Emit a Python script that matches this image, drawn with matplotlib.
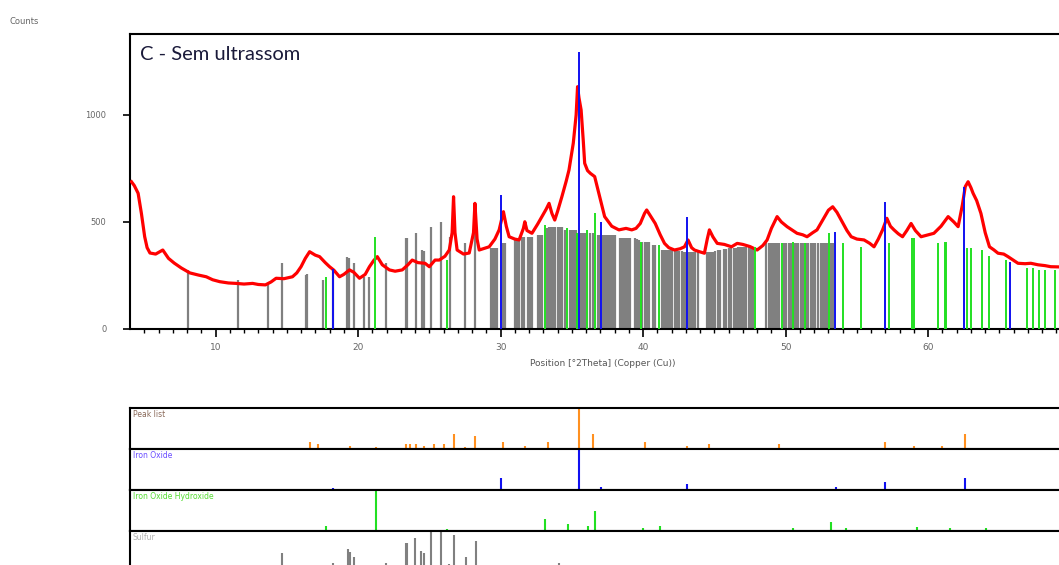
import matplotlib
matplotlib.use("Agg")
import matplotlib.pyplot as plt

two_theta = [4.1, 4.3, 4.57, 4.8, 5.03, 5.2, 5.4, 5.8, 6.3, 6.7, 7.1, 7.6, 8.2, 8.8, 9.35, 9.8,
             10.3, 10.9, 11.45, 12.0, 12.6, 13.0, 13.5, 13.9, 14.25, 14.8, 15.4, 15.7, 16.0, 16.3,
             16.6, 17.0, 17.3, 17.7, 18.0, 18.3, 18.7, 19.0, 19.4, 19.7, 20.1, 20.5, 20.8, 21.1,
             21.35, 21.7, 22.2, 22.6, 23.1, 23.5, 23.8, 24.2, 24.7, 25.0, 25.4, 25.7, 26.1, 26.4,
             26.6, 26.7, 26.8, 26.95, 27.4, 27.8, 28.1, 28.2, 28.35, 28.5, 29.2, 29.6, 29.9, 30.2,
             30.4, 30.6, 31.0, 31.3, 31.6, 31.7, 31.85, 32.2, 32.6, 32.9, 33.2, 33.4, 33.6, 33.8,
             34.0, 34.3, 34.6, 34.8, 35.1, 35.3, 35.4, 35.5, 35.65, 35.8, 35.9, 36.1, 36.3, 36.6,
             36.95, 37.3, 37.8, 38.3, 38.8, 39.2, 39.5, 39.8, 40.1, 40.25, 40.5, 40.85, 41.2, 41.5,
             41.8, 42.2, 42.6, 42.9, 43.15, 43.4, 43.6, 44.0, 44.3, 44.5, 44.65, 44.9, 45.2, 45.7,
             46.2, 46.6, 47.0, 47.5, 48.0, 48.4, 48.7, 49.0, 49.4, 49.7, 50.1, 50.5, 50.8, 51.2,
             51.5, 51.9, 52.2, 52.7, 53.0, 53.3, 53.6, 53.9, 54.3, 54.6, 55.0, 55.5, 55.9, 56.2,
             56.5, 56.8, 57.1, 57.35, 57.6, 57.9, 58.2, 58.5, 58.8, 59.1, 59.5, 60.0, 60.4, 60.9,
             61.4, 61.8, 62.1, 62.4, 62.6, 62.8, 63.0, 63.15, 63.4, 63.7, 64.0, 64.3, 64.6, 64.9,
             65.3, 65.6, 66.0, 66.3, 66.8, 67.2, 67.7, 68.2, 68.6, 69.2]
counts = [688, 670, 634, 540, 431, 380, 355, 350, 369, 330, 308, 285, 262, 252, 244, 230,
          221, 215, 213, 210, 213, 208, 206, 220, 237, 235, 244, 262, 291, 330,
          361, 345, 338, 310, 291, 275, 244, 255, 276, 265, 237, 255, 291, 320,
          338, 300, 276, 270, 276, 300, 322, 310, 307, 291, 322, 322, 340, 369,
          450, 618, 450, 369, 350, 355, 450, 587, 420, 369, 384, 420, 463, 548,
          480, 431, 420, 416, 470, 501, 460, 447, 490, 525, 560, 587, 540, 509,
          550, 618, 690, 743, 868, 1000, 1132, 1080, 1023, 880, 774, 740, 727, 712,
          618, 525, 480, 463, 470, 463, 470, 493, 540, 556, 530, 493, 440, 400,
          380, 369, 375, 384, 416, 380, 369, 360, 354, 420, 463, 430, 400, 395,
          384, 400, 395, 385, 369, 390, 416, 470, 525, 500, 478, 460, 447, 440,
          431, 450, 463, 520, 555, 571, 545, 509, 460, 431, 420, 416, 400, 384,
          420, 463, 517, 480, 463, 445, 431, 460, 493, 460, 431, 440, 447, 480,
          525, 500, 478, 580, 665, 688, 660, 634, 600, 540, 450, 384, 370, 354,
          350, 338, 320, 307, 305, 307, 300, 296, 291, 290]

# reference sticks drawn in the main plot
sulfur_pos = [8.06, 11.56, 13.66, 14.64, 16.34, 16.45, 17.55, 18.27, 19.25, 19.36, 19.72, 20.42,
              20.77, 21.94, 23.34, 23.45, 24.04, 24.5, 24.6, 25.15, 25.85, 26.47, 27.52, 28.22,
              29.3, 29.45, 29.6, 29.75, 30.15, 30.3, 31.0, 31.15, 31.3, 31.5, 31.65, 31.9, 32.05,
              32.2, 32.6, 32.75, 32.9, 33.25, 33.4, 33.55, 33.7, 33.85, 34.0, 34.15, 34.3, 34.5,
              34.85, 35.0, 35.15, 35.3, 35.65, 35.8, 35.95, 36.3, 36.45, 36.8, 36.95, 37.15, 37.3,
              37.45, 37.6, 37.75, 37.9, 38.05, 38.35, 38.5, 38.65, 38.8, 38.95, 39.1, 39.4, 39.55,
              39.7, 39.95, 40.1, 40.25, 40.4, 40.7, 40.85, 41.3, 41.45, 41.6, 41.75, 41.9, 42.05,
              42.25, 42.4, 42.55, 42.7, 42.85, 43.0, 43.2, 43.35, 43.5, 43.65, 43.85, 44.45, 44.6,
              44.75, 44.9, 45.05, 45.25, 45.4, 45.65, 45.8, 46.0, 46.15, 46.35, 46.5, 46.65, 46.8,
              46.95, 47.1, 47.25, 47.4, 47.55, 47.7, 48.65, 48.8, 48.95, 49.1, 49.25, 49.4, 49.55,
              49.9, 50.05, 50.2, 50.35, 50.6, 50.75, 50.9, 51.05, 51.2, 51.45, 51.6, 51.75, 51.9,
              52.05, 52.3, 52.45, 52.6, 52.75, 52.9, 53.15, 53.3]
sulfur_h = [276, 229, 213, 307, 252, 255, 229, 274, 338, 330, 310, 244,
            244, 307, 423, 423, 447, 369, 365, 478, 501, 431, 400, 548,
            377, 377, 377, 380, 400, 400, 416, 416, 416, 431, 431, 431, 431,
            431, 439, 439, 439, 470, 478, 478, 478, 478, 478, 478, 478, 463,
            463, 463, 463, 463, 447, 447, 447, 447, 447, 439, 439, 439, 439,
            439, 439, 439, 439, 439, 425, 425, 425, 425, 425, 425, 425, 420,
            415, 408, 408, 408, 408, 393, 393, 369, 369, 369, 369, 369, 369,
            365, 365, 365, 365, 361, 361, 361, 361, 361, 361, 361, 361, 361,
            361, 361, 365, 370, 370, 375, 375, 378, 378, 380, 380, 384, 384,
            384, 384, 384, 384, 384, 384, 403, 403, 403, 403, 403, 403, 403,
            403, 403, 403, 403, 403, 403, 403, 400, 400, 400, 400, 400, 400,
            400, 400, 400, 400, 400, 400, 400, 400]
goethite_pos = [17.74, 21.19, 26.24, 33.1, 34.65, 35.35, 36.08, 36.6, 39.84, 41.1, 47.86, 49.72,
                50.5, 51.35, 53.05, 53.99, 55.27, 57.25, 58.88, 59.0, 60.7, 61.17, 61.28, 62.73,
                63.0, 63.8, 64.24, 65.47, 66.92, 67.34, 67.74, 68.2, 68.9]
goethite_h = [244, 431, 322, 486, 470, 447, 463, 541, 408, 393, 384, 400,
              408, 400, 447, 400, 384, 400, 423, 423, 400, 408, 408, 377,
              377, 369, 341, 322, 284, 284, 276, 276, 276]
magnetite_pos = [18.27, 30.05, 35.5, 37.06, 43.08, 53.45, 56.94, 62.54, 65.76]
magnetite_h = [280, 626, 1294, 501, 522, 455, 595, 665, 315]

# stick strips below, in % of the strip
peak_pos = [4.36, 6.36, 16.6, 17.16, 19.4, 21.24, 23.34, 23.62, 24.04, 24.6, 25.3, 26.0, 26.7,
            27.5, 28.2, 30.2, 31.7, 33.3, 35.5, 36.45, 40.16, 43.08, 44.6, 47.0, 49.5, 57.0,
            59.0, 60.95, 62.6]
peak_rel = [2, 2, 18, 12, 7, 6, 12, 12, 12, 7, 12, 12, 37,
            4, 31, 18, 7, 18, 100, 37, 18, 7, 12, 3, 12, 18,
            7, 7, 37]
iron_pos = [18.27, 30.05, 35.5, 37.03, 43.08, 53.5, 57.0, 62.6, 65.76]
iron_rel = [5, 29, 100, 7, 15, 7, 20, 30, 3]
hydrox_pos = [17.74, 21.24, 26.27, 33.1, 34.7, 35.4, 36.1, 36.6, 39.0, 40.0, 41.2, 44.9, 47.1,
              50.5, 53.2, 54.2, 55.5, 57.45, 59.2, 61.5, 62.9, 63.2, 64.05, 65.8, 67.2, 68.5]
hydrox_rel = [11, 100, 5, 30, 17, 3, 11, 50, 3, 7, 11, 3, 3,
              7, 21, 7, 3, 3, 10, 7, 3, 3, 7, 3, 3, 3]
sulfur_strip_pos = [14.64, 18.27, 19.28, 19.42, 19.7, 21.94, 23.34, 23.45, 24.02, 24.45, 24.6,
                    25.13, 25.83, 26.37, 26.7, 27.54, 28.24, 34.1]
sulfur_strip_rel = [47, 23, 56, 50, 37, 21, 71, 71, 82, 51, 47,
                    98, 100, 20, 90, 37, 76, 21]

W, H = 1059, 565
x0, x1 = 4.0, 70.3
left = 130 / W
width = 945 / W

fig = plt.figure(figsize=(W / 100, H / 100), dpi=100)

ax = fig.add_axes([left, (H - 329) / H, width, 295 / H])
ax.vlines(sulfur_pos, 0, sulfur_h, colors="#808080", linewidth=1.6, zorder=2)
ax.plot(two_theta, counts, color="#ff0000", linewidth=2.3, zorder=3)
ax.vlines(goethite_pos, 0, goethite_h, colors="#22e022", linewidth=1.4, zorder=4)
ax.vlines(magnetite_pos, 0, magnetite_h, colors="#1010f0", linewidth=1.4, zorder=5)
ax.set_xlim(x0, x1)
ax.set_ylim(0, 1378)
ax.set_yticks([0, 500, 1000])
ax.set_xticks([10, 20, 30, 40, 50, 60])
ax.set_xticks(range(5, 70), minor=True)
for s in ax.spines.values():
    s.set_linewidth(1.5)
ax.tick_params(axis="y", length=5, width=1.2, pad=12, labelsize=6, labelcolor="#666666")
ax.tick_params(axis="x", which="major", length=6, width=1.2, pad=4, labelsize=6.5, labelcolor="#666666")
ax.tick_params(axis="x", which="minor", length=3, width=1)
ax.set_xlabel("Position [°2Theta] (Copper (Cu))", fontsize=6.5, color="#555555", labelpad=5)
ax.text(0.011, 0.93, "C - Sem ultrassom", transform=ax.transAxes, fontsize=14.5,
        family=["Lato", "DejaVu Sans"], color="#1a1a3a", va="center")
fig.text(10 / W, 1 - 22 / H, "Counts", fontsize=6, color="#666666", va="center")

strips = [("Peak list", peak_pos, peak_rel, "#ff9020", "#8a6a5a"),
          ("Iron Oxide", iron_pos, iron_rel, "#1010f0", "#6a4dff"),
          ("Iron Oxide Hydroxide", hydrox_pos, hydrox_rel, "#22e022", "#55dd33"),
          ("Sulfur", sulfur_strip_pos, sulfur_strip_rel, "#808080", "#b0b0b0")]
for i, (name, pos, rel, col, tcol) in enumerate(strips):
    top_px = 408 + 41 * i
    sa = fig.add_axes([left, (H - top_px - 41) / H, width, 41 / H])
    sa.vlines(pos, 0, rel, colors=col, linewidth=1.5)
    sa.set_xlim(x0, x1)
    sa.set_ylim(0, 100)
    sa.set_xticks([])
    sa.set_yticks([])
    sa.spines["right"].set_visible(False)
    for k in ["top", "bottom", "left"]:
        sa.spines[k].set_linewidth(1.5)
    sa.text(0.003, 0.85, name, transform=sa.transAxes, fontsize=5.5, color=tcol, va="center")

fig.savefig("out.png", dpi=100)
